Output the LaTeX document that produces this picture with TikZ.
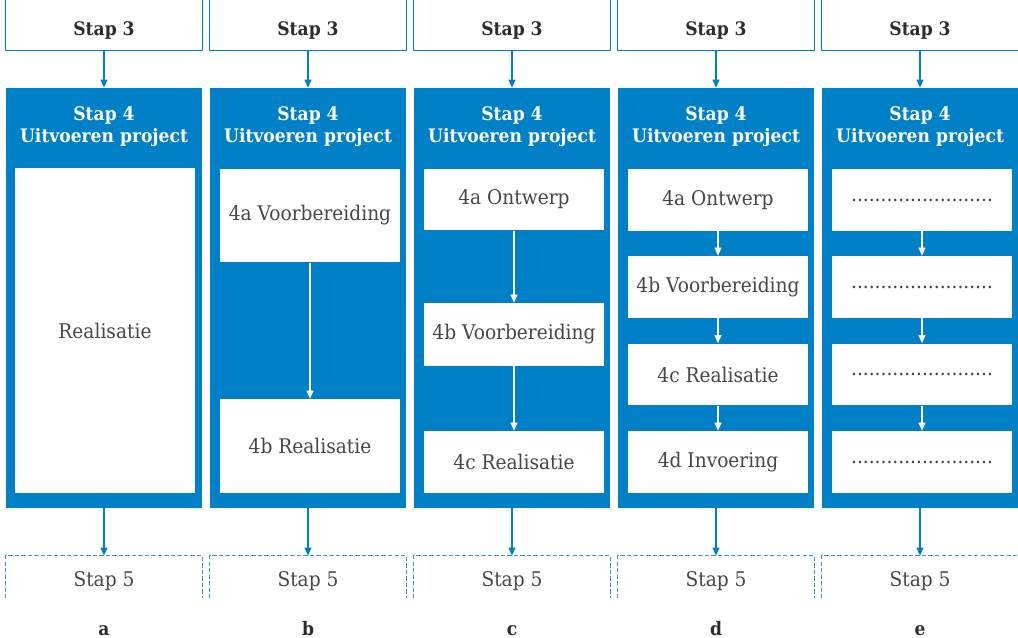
\documentclass[tikz,border=0pt]{standalone}
\usepackage{fontspec}
\setmainfont{DejaVu Serif}[FakeStretch=0.92]
\usetikzlibrary{positioning,arrows.meta,calc}
\definecolor{stapblauw}{RGB}{0,128,198}
\definecolor{donker}{RGB}{45,45,45}
\definecolor{grijs}{RGB}{70,70,70}
\newcommand{\kopfont}{\fontsize{10.6}{12.5}\selectfont\bfseries}
\newcommand{\tekstfont}{\fontsize{11.5}{13}\selectfont}

\tikzset{
  stap3/.style={minimum width=3.92cm,minimum height=0.8cm,inner sep=0pt,font=\kopfont,text=donker},
  blok/.style={fill=stapblauw,minimum width=3.92cm,minimum height=8.4cm,inner sep=0pt},
  titel/.style={font=\kopfont,text=white,align=center,inner sep=0pt},
  deel/.style={fill=white,minimum width=3.6cm,minimum height=1.24cm,inner sep=0pt,font=\tekstfont,text=grijs},
  stap5/.style={minimum width=3.92cm,minimum height=1cm,inner sep=0pt,font=\tekstfont,text=grijs},
  letter/.style={font=\kopfont,text=donker,anchor=base,inner sep=0pt},
  lijn/.style={draw=stapblauw,line width=0.7pt},
  streep/.style={draw=stapblauw!80,line width=0.7pt,dash pattern=on 2.4pt off 1.3pt},
  pijl/.style={stapblauw,line width=0.7pt,-{Triangle[length=4.6pt,width=4pt]}},
  wpijl/.style={white,line width=0.7pt,-{Triangle[length=4.6pt,width=4pt]}}
}

\begin{document}
\begin{tikzpicture}[x=0.02cm,y=-0.02cm]
  \useasboundingbox (0,0) rectangle (1018,638);

  % Kolom a
  \node[stap3] (s3a) at (104,31) {Stap 3};
  \draw[lijn] ([yshift=1cm]s3a.north west) -- ([yshift=0.02cm]s3a.south west) -- ([yshift=0.02cm]s3a.south east) -- ([yshift=1cm]s3a.north east);
  \node[blok] (b4a) at (104,298) {};
  \node[titel] (t4a) at (104,126.5) {Stap 4\\Uitvoeren project};
  \node[deel,minimum height=6.5cm] (ra) at (105,330.5) {Realisatie};
  \node[stap5] (s5a) at (104,581) {Stap 5};
  \draw[streep] ([yshift=0.16cm]s5a.south west) -- (s5a.north west) -- (s5a.north east) -- ([yshift=0.16cm]s5a.south east);
  \draw[pijl] (s3a) -- (b4a);
  \draw[pijl] (b4a) -- (s5a);
  \node[letter] (la) at (104,635) {a};

  % Kolom b
  \node[stap3] (s3b) at (308,31) {Stap 3};
  \draw[lijn] ([yshift=1cm]s3b.north west) -- ([yshift=0.02cm]s3b.south west) -- ([yshift=0.02cm]s3b.south east) -- ([yshift=1cm]s3b.north east);
  \node[blok] (b4b) at (308,298) {};
  \node[titel] (t4b) at (308,126.5) {Stap 4\\Uitvoeren project};
  \node[deel,minimum height=1.87cm] (vb) at (310,215.5) {4a Voorbereiding};
  \node[deel,minimum height=1.88cm] (rb) at (310,446) {4b Realisatie};
  \draw[wpijl] (vb) -- (rb);
  \node[stap5] (s5b) at (308,581) {Stap 5};
  \draw[streep] ([yshift=0.16cm]s5b.south west) -- (s5b.north west) -- (s5b.north east) -- ([yshift=0.16cm]s5b.south east);
  \draw[pijl] (s3b) -- (b4b);
  \draw[pijl] (b4b) -- (s5b);
  \node[letter] (lb) at (308,635) {b};

  % Kolom c
  \node[stap3] (s3c) at (512,31) {Stap 3};
  \draw[lijn] ([yshift=1cm]s3c.north west) -- ([yshift=0.02cm]s3c.south west) -- ([yshift=0.02cm]s3c.south east) -- ([yshift=1cm]s3c.north east);
  \node[blok] (b4c) at (512,298) {};
  \node[titel] (t4c) at (512,126.5) {Stap 4\\Uitvoeren project};
  \node[deel] (oc) at (514,199.5) {4a Ontwerp};
  \node[deel,minimum height=1.26cm] (vc) at (514,334.5) {4b Voorbereiding};
  \node[deel] (rc) at (514,462) {4c Realisatie};
  \draw[wpijl] (oc) -- (vc);
  \draw[wpijl] (vc) -- (rc);
  \node[stap5] (s5c) at (512,581) {Stap 5};
  \draw[streep] ([yshift=0.16cm]s5c.south west) -- (s5c.north west) -- (s5c.north east) -- ([yshift=0.16cm]s5c.south east);
  \draw[pijl] (s3c) -- (b4c);
  \draw[pijl] (b4c) -- (s5c);
  \node[letter] (lc) at (512,635) {c};

  % Kolom d
  \node[stap3] (s3d) at (716,31) {Stap 3};
  \draw[lijn] ([yshift=1cm]s3d.north west) -- ([yshift=0.02cm]s3d.south west) -- ([yshift=0.02cm]s3d.south east) -- ([yshift=1cm]s3d.north east);
  \node[blok] (b4d) at (716,298) {};
  \node[titel] (t4d) at (716,126.5) {Stap 4\\Uitvoeren project};
  \node[deel] (od) at (718,200) {4a Ontwerp};
  \node[deel] (vd) at (718,287) {4b Voorbereiding};
  \node[deel] (rd) at (718,374.5) {4c Realisatie};
  \node[deel] (id) at (718,462) {4d Invoering};
  \draw[wpijl] (od) -- (vd);
  \draw[wpijl] (vd) -- (rd);
  \draw[wpijl] (rd) -- (id);
  \node[stap5] (s5d) at (716,581) {Stap 5};
  \draw[streep] ([yshift=0.16cm]s5d.south west) -- (s5d.north west) -- (s5d.north east) -- ([yshift=0.16cm]s5d.south east);
  \draw[pijl] (s3d) -- (b4d);
  \draw[pijl] (b4d) -- (s5d);
  \node[letter] (ld) at (716,635) {d};

  % Kolom e
  \node[stap3] (s3e) at (920,31) {Stap 3};
  \draw[lijn] ([yshift=1cm]s3e.north west) -- ([yshift=0.02cm]s3e.south west) -- ([yshift=0.02cm]s3e.south east) -- ([yshift=1cm]s3e.north east);
  \node[blok] (b4e) at (920,298) {};
  \node[titel] (t4e) at (920,126.5) {Stap 4\\Uitvoeren project};
  \node[deel] (e1) at (922,200) {........................};
  \node[deel] (e2) at (922,287) {........................};
  \node[deel] (e3) at (922,374.5) {........................};
  \node[deel] (e4) at (922,462) {........................};
  \draw[wpijl] (e1) -- (e2);
  \draw[wpijl] (e2) -- (e3);
  \draw[wpijl] (e3) -- (e4);
  \node[stap5] (s5e) at (920,581) {Stap 5};
  \draw[streep] ([yshift=0.16cm]s5e.south west) -- (s5e.north west) -- (s5e.north east) -- ([yshift=0.16cm]s5e.south east);
  \draw[pijl] (s3e) -- (b4e);
  \draw[pijl] (b4e) -- (s5e);
  \node[letter] (le) at (920,635) {e};
\end{tikzpicture}
\end{document}
